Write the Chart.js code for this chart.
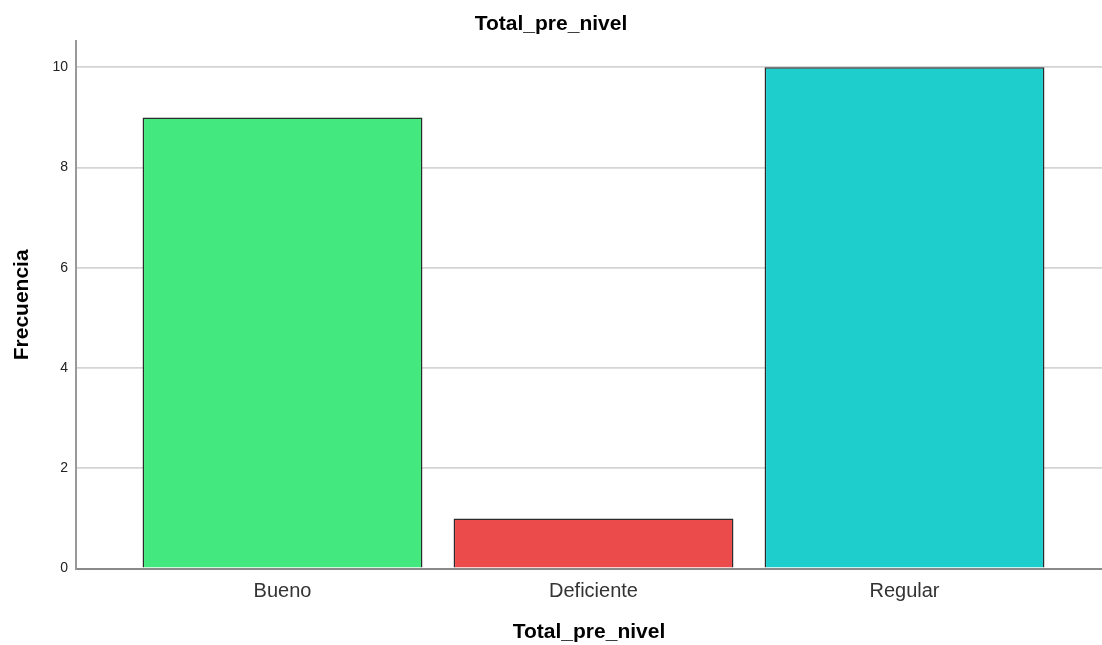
<!DOCTYPE html>
<html>
<head>
<meta charset="utf-8">
<script src="https://cdn.jsdelivr.net/npm/chart.js@4.4.0/dist/chart.umd.min.js"></script>
<style>
  html, body { margin: 0; padding: 0; background: #fff; }
  #wrap { width: 1102px; height: 645px; }
</style>
</head>
<body>
<div id="wrap"><canvas id="barChart" width="1102" height="645"></canvas></div>
<script>
// datos
var categorias = ["Bueno", "Deficiente", "Regular"];
var frecuencias = [9, 1, 10];
var colores = ["#43e97e", "#ec4b4b", "#1ececd"];
var yTicks = [0, 2, 4, 6, 8, 10];

var puntos = frecuencias.map(function(v, i) { return { x: i, y: v }; });

var ctx = document.getElementById("barChart").getContext("2d");
var barChart = new Chart(ctx, {
  type: "bar",
  data: {
    datasets: [{
      label: "Frecuencia",
      data: puntos,
      backgroundColor: colores,
      borderColor: "#2b2b2b",
      borderWidth: 1.5,
      barPercentage: 0.9,
      categoryPercentage: 1
    }]
  },
  options: {
    responsive: false,
    animation: false,
    layout: { padding: 0 },
    plugins: {
      legend: { display: false },
      tooltip: { enabled: false },
      title: {
        display: true,
        text: "Total_pre_nivel",
        color: "#000",
        font: { family: "Arial, Liberation Sans", size: 21, weight: "bold" },
        padding: { top: 12, bottom: 4 }
      }
    },
    scales: {
      x: {
        type: "linear",
        offset: false,
        min: -0.664,
        max: 2.635,
        afterBuildTicks: function(scale) {
          scale.ticks = categorias.map(function(c, i) { return { value: i }; });
        },
        grid: { display: false, drawTicks: false },
        border: { color: "#8a8a8a", width: 2 },
        ticks: {
          color: "#333",
          padding: 11,
          autoSkip: false,
          maxRotation: 0,
          font: { family: "Arial, Liberation Sans", size: 20 },
          callback: function(value) { return categorias[value]; }
        },
        title: {
          display: true,
          text: "Total_pre_nivel",
          color: "#000",
          font: { family: "Arial, Liberation Sans", size: 21, weight: "bold" },
          padding: 0
        },
        afterFit: function(scale) { scale.height = 76.5; }
      },
      y: {
        min: 0,
        max: 10.52,
        afterBuildTicks: function(scale) {
          scale.ticks = yTicks.map(function(v) { return { value: v }; });
        },
        grid: { color: "#d4d4d4", lineWidth: 1.8, drawTicks: false },
        border: { color: "#999", width: 2 },
        ticks: {
          color: "#222",
          padding: 8,
          font: { family: "Arial, Liberation Sans", size: 14 }
        },
        title: {
          display: true,
          text: "Frecuencia",
          color: "#000",
          font: { family: "Arial, Liberation Sans", size: 21, weight: "bold" },
          padding: { top: 10, bottom: 0 }
        },
        afterFit: function(scale) { scale.width = 76; }
      }
    }
  }
});
</script>
</body>
</html>
